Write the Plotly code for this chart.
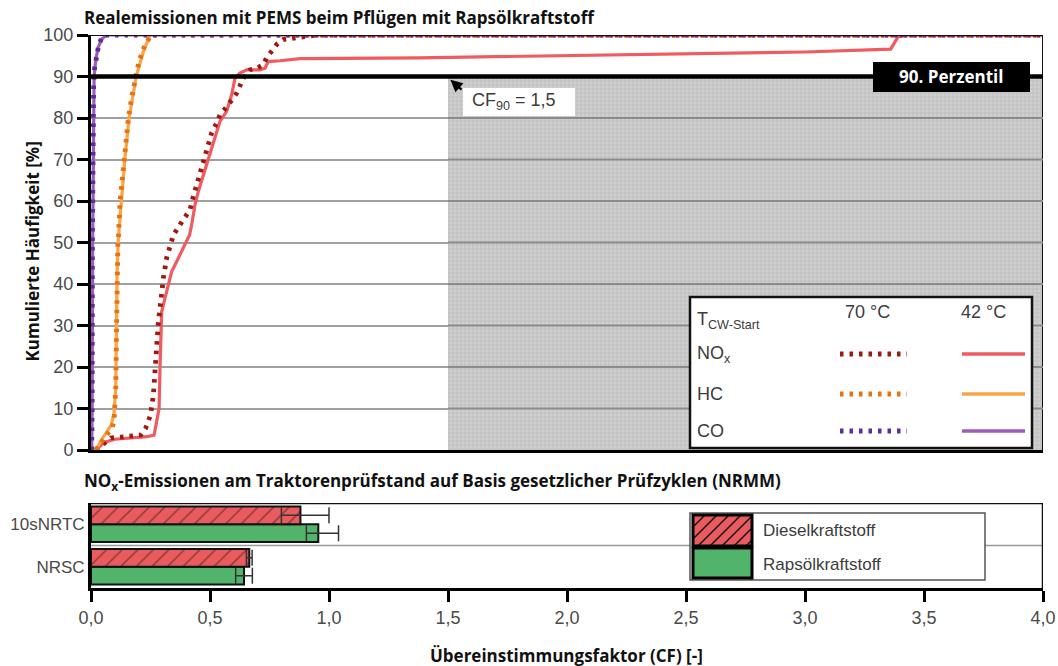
import plotly.graph_objects as go

W, H = 1058, 666

# ---- cumulative frequency of the conformity factor (CF) during ploughing ----
nox70_cf = [0.02, 0.055, 0.083, 0.125, 0.166, 0.209, 0.23, 0.25, 0.262, 0.269, 0.276, 0.283,
            0.29, 0.297, 0.304, 0.318, 0.332, 0.346, 0.374, 0.416, 0.43, 0.444, 0.465, 0.486,
            0.507, 0.528, 0.542, 0.577, 0.598, 0.612, 0.64, 0.668, 0.696, 0.723, 0.738, 0.759,
            0.78, 0.808, 0.849, 0.95, 4.0]
nox70_p = [0, 1.7, 2.9, 3.1, 3.4, 3.6, 5.3, 8.4, 13.2, 19.8, 26, 30.8,
           34.2, 38, 41.4, 46.3, 48.7, 51.8, 54.3, 57.9, 61.1, 63.9, 67.9, 71.6,
           76.4, 78.8, 80.8, 83.2, 84.8, 86, 89.6, 91.6, 92, 92.8, 94.5, 96,
           97.7, 98.9, 99.3, 100, 100]

nox42_cf = [0.02, 0.055, 0.10, 0.15, 0.20, 0.235, 0.265, 0.286, 0.29, 0.293, 0.297, 0.311,
            0.325, 0.339, 0.36, 0.381, 0.402, 0.414, 0.423, 0.437, 0.451, 0.472, 0.493, 0.521,
            0.542, 0.57, 0.591, 0.605, 0.626, 0.654, 0.71, 0.731, 0.745, 0.794, 0.878, 1.38,
            2.0, 2.56, 3.0, 3.36, 3.39, 3.42, 4.0]
nox42_p = [0, 1.8, 2.6, 2.8, 3.0, 3.2, 3.6, 10, 20, 27, 33.3, 36.6,
           39.8, 43, 45.4, 47.8, 50.2, 51.8, 54.3, 59.1, 62.3, 66.3, 70.4, 75.2,
           79.2, 81.6, 85.6, 89.6, 90.8, 91.6, 91.6, 92, 93.6, 93.8, 94.3, 94.5,
           95.0, 95.4, 95.9, 96.6, 99.5, 100, 100]

hc70_cf = [0.02, 0.045, 0.067, 0.09, 0.097, 0.104, 0.107, 0.109, 0.113, 0.115, 0.122, 0.139,
           0.157, 0.173, 0.188, 0.202, 0.222, 0.244, 0.252, 4.0]
hc70_p = [0, 2.0, 3.6, 5.5, 7.2, 15, 27.7, 43.9, 50, 51, 60, 69.6,
          80, 85.6, 90, 93.7, 96.9, 99.3, 100, 100]

hc42_cf = [0.02, 0.05, 0.085, 0.097, 0.104, 0.107, 0.11, 0.115, 0.128, 0.142, 0.16, 0.19,
           0.22, 0.248, 4.0]
hc42_p = [0, 3, 6, 9, 15, 28, 44, 51, 60, 70, 80, 90,
          96, 100, 100]

co70_cf = [0.003, 0.005, 0.006, 0.008, 0.011, 0.015, 0.022, 0.032, 0.045, 0.06, 4.0]
co70_p = [0, 10, 50, 80, 88, 92, 95, 97.5, 99.3, 100, 100]

co42_cf = [0.003, 0.005, 0.007, 0.009, 0.013, 0.02, 0.03, 0.045, 0.065, 4.0]
co42_p = [0, 10, 50, 80, 90, 94, 97, 99, 100, 100]

CF90 = 1.5
PERZENTIL = 90
CF_MAX = 4.0

# ---- test bench cycles (NRMM) ----
zyklen = ["10sNRTC", "NRSC"]
diesel = [0.88, 0.665]
diesel_err_plus = [0.12, 0.012]
diesel_err_minus = [0.08, 0.012]
rapsoel = [0.955, 0.643]
rapsoel_err_plus = [0.085, 0.035]
rapsoel_err_minus = [0.05, 0.035]

C_NOX70, C_NOX42 = "#9E1A10", "#EF5B60"
C_HC70, C_HC42 = "#E8720F", "#F7A548"
C_CO70, C_CO42 = "#5B2D9B", "#9D5CBA"
C_DIESEL, C_RAPS = "#E95B5E", "#52B46B"

FONT = "Liberation Sans"
BOLD = "Open Sans"
TXT = "#3c3c3c"
DOT = "3.5px,6px"

fig = go.Figure()

# hatched region beyond CF90 below the 90th percentile
fig.add_trace(go.Scatter(
    x=[CF90, CF_MAX, CF_MAX, CF90, CF90], y=[0, 0, PERZENTIL, PERZENTIL, 0],
    mode="lines", fill="toself", line=dict(width=0), fillcolor="#c8c8c8",
    fillpattern=dict(shape="+", fgcolor="#a6a6a6", bgcolor="#d0d0d0", size=4, solidity=0.35),
    hoverinfo="skip", showlegend=False, xaxis="x", yaxis="y"))

for xs, ys, c in [(nox42_cf, nox42_p, C_NOX42), (hc42_cf, hc42_p, C_HC42), (co42_cf, co42_p, C_CO42)]:
    fig.add_trace(go.Scatter(x=xs, y=ys, mode="lines", line=dict(color=c, width=3.2),
                             showlegend=False, xaxis="x", yaxis="y"))
for xs, ys, c in [(nox70_cf, nox70_p, C_NOX70), (hc70_cf, hc70_p, C_HC70), (co70_cf, co70_p, C_CO70)]:
    fig.add_trace(go.Scatter(x=xs, y=ys, mode="lines", line=dict(color=c, width=4.8, dash=DOT),
                             showlegend=False, xaxis="x", yaxis="y"))

# bars (horizontal groups: first trace sits at the bottom of each group)
fig.add_trace(go.Bar(
    y=zyklen, x=rapsoel, orientation="h", name="Rapsölkraftstoff",
    marker=dict(color=C_RAPS, line=dict(color="#111", width=2)),
    error_x=dict(type="data", array=rapsoel_err_plus, arrayminus=rapsoel_err_minus,
                 symmetric=False, color="#333", thickness=1.5, width=8),
    showlegend=False, xaxis="x2", yaxis="y2"))
fig.add_trace(go.Bar(
    y=zyklen, x=diesel, orientation="h", name="Dieselkraftstoff",
    marker=dict(color=C_DIESEL, line=dict(color="#111", width=2),
                pattern=dict(shape="/", fgcolor="#111", bgcolor=C_DIESEL, size=11, solidity=0.12)),
    error_x=dict(type="data", array=diesel_err_plus, arrayminus=diesel_err_minus,
                 symmetric=False, color="#333", thickness=1.5, width=8),
    showlegend=False, xaxis="x2", yaxis="y2"))

X_DOM = [91 / W, 1043 / W]
shapes = []
ann = []

# top subplot frame and lines
shapes.append(dict(type="line", xref="x", yref="y", x0=0, x1=CF_MAX, y0=100, y1=100,
                   line=dict(color="#111", width=2)))
shapes.append(dict(type="line", xref="x", yref="y", x0=CF_MAX, x1=CF_MAX, y0=0, y1=100,
                   line=dict(color="#111", width=2)))
for g in range(10, PERZENTIL, 10):
    shapes.append(dict(type="line", xref="x", yref="y", x0=CF90, x1=CF_MAX, y0=g, y1=g,
                       line=dict(color="#8c8c8c", width=2)))
shapes.append(dict(type="line", xref="x", yref="y", x0=0, x1=CF_MAX, y0=PERZENTIL, y1=PERZENTIL,
                   line=dict(color="#000", width=4.5)))


def tx(px):
    return (px - 91) / 238.0


def ty(py):
    return (450 - py) / 4.15


# CF90 label box
shapes.append(dict(type="rect", xref="x", yref="y", x0=tx(463), x1=tx(575), y0=ty(116), y1=ty(88),
                   fillcolor="white", line=dict(width=0)))
ann.append(dict(xref="x", yref="y", x=tx(470), y=ty(102), xanchor="left", yanchor="middle",
                text="CF<sub>90</sub> = 1,5", showarrow=False, font=dict(family=FONT, size=18, color=TXT)))
ann.append(dict(xref="x", yref="y", x=CF90 + 0.01, y=PERZENTIL - 0.8, axref="x", ayref="y",
                ax=tx(463), ay=ty(91), text="", showarrow=True, arrowhead=2, arrowsize=1.1,
                arrowwidth=2.2, arrowcolor="#000"))

# 90th percentile tag
shapes.append(dict(type="rect", xref="x", yref="y", x0=tx(873), x1=tx(1030), y0=ty(92), y1=ty(62),
                   fillcolor="#000", line=dict(width=0)))
ann.append(dict(xref="x", yref="y", x=tx(951), y=ty(77), text="<b>90. Perzentil</b>", showarrow=False,
                font=dict(family=BOLD, size=17, color="white")))

# legend panel of the top subplot
shapes.append(dict(type="rect", xref="x", yref="y", x0=tx(690), x1=tx(1032), y0=ty(448), y1=ty(297),
                   fillcolor="white", line=dict(color="#111", width=2.5)))
ann.append(dict(xref="x", yref="y", x=tx(695), y=ty(320), xanchor="left", yanchor="middle",
                text="T<sub>CW-Start</sub>", showarrow=False, font=dict(family=FONT, size=18, color=TXT)))
ann.append(dict(xref="x", yref="y", x=tx(867), y=ty(312), text="70 °C", showarrow=False,
                font=dict(family=FONT, size=18, color=TXT)))
ann.append(dict(xref="x", yref="y", x=tx(983), y=ty(312), text="42 °C", showarrow=False,
                font=dict(family=FONT, size=18, color=TXT)))
rows = [("NO<sub>x</sub>", 354, C_NOX70, C_NOX42), ("HC", 394, C_HC70, C_HC42), ("CO", 431, C_CO70, C_CO42)]
for lab, py, c70, c42 in rows:
    ann.append(dict(xref="x", yref="y", x=tx(695), y=ty(py), xanchor="left", yanchor="middle",
                    text=lab, showarrow=False, font=dict(family=FONT, size=18, color=TXT)))
    shapes.append(dict(type="line", xref="x", yref="y", x0=tx(840), x1=tx(907), y0=ty(py), y1=ty(py),
                       line=dict(color=c70, width=4.8, dash=DOT)))
    shapes.append(dict(type="line", xref="x", yref="y", x0=tx(962), x1=tx(1025), y0=ty(py), y1=ty(py),
                       line=dict(color=c42, width=3.5)))

# bottom subplot frame, separator and legend
shapes.append(dict(type="line", xref="x2", yref="y2", x0=0, x1=CF_MAX, y0=0.5, y1=0.5,
                   line=dict(color="#9a9a9a", width=1.5), layer="below"))
shapes.append(dict(type="line", xref="x2", yref="y2", x0=0, x1=CF_MAX, y0=1.5, y1=1.5,
                   line=dict(color="#111", width=2.5)))
shapes.append(dict(type="line", xref="x2", yref="y2", x0=CF_MAX, x1=CF_MAX, y0=-0.5, y1=1.5,
                   line=dict(color="#111", width=2.5)))


def bx(px):
    return (px - 91) / 238.0


def by(py):
    return 1.5 - (py - 503) / 42.5


shapes.append(dict(type="rect", xref="x2", yref="y2", x0=bx(690), x1=bx(985), y0=by(580), y1=by(513),
                   fillcolor="white", line=dict(color="#555", width=1.5)))
sw_l, sw_r = 693, 752
shapes.append(dict(type="rect", xref="x2", yref="y2", x0=bx(sw_l), x1=bx(sw_r), y0=by(546), y1=by(515),
                   fillcolor=C_DIESEL, line=dict(width=0)))
# diagonal hatching inside the diesel swatch
top_py, bot_py = 515, 546
for start in range(sw_l - 31, sw_r, 12):
    xa, ya = start, bot_py
    xb, yb = start + (bot_py - top_py), top_py
    if xa < sw_l:
        ya = bot_py - (sw_l - xa)
        xa = sw_l
    if xb > sw_r:
        yb = top_py + (xb - sw_r)
        xb = sw_r
    if xb > xa:
        shapes.append(dict(type="line", xref="x2", yref="y2", x0=bx(xa), x1=bx(xb), y0=by(ya), y1=by(yb),
                           line=dict(color="#111", width=1.5)))
shapes.append(dict(type="rect", xref="x2", yref="y2", x0=bx(sw_l), x1=bx(sw_r), y0=by(546), y1=by(515),
                   line=dict(color="#000", width=3)))
shapes.append(dict(type="rect", xref="x2", yref="y2", x0=bx(sw_l), x1=bx(sw_r), y0=by(578), y1=by(548),
                   fillcolor=C_RAPS, line=dict(color="#000", width=3)))
ann.append(dict(xref="x2", yref="y2", x=bx(761), y=by(530), xanchor="left", text="Dieselkraftstoff",
                showarrow=False, font=dict(family=FONT, size=17, color=TXT)))
ann.append(dict(xref="x2", yref="y2", x=bx(761), y=by(564), xanchor="left", text="Rapsölkraftstoff",
                showarrow=False, font=dict(family=FONT, size=17, color=TXT)))

# titles
ann.append(dict(xref="paper", yref="paper", x=82 / W, y=1 - 17 / H, xanchor="left", yanchor="middle",
                text="<b>Realemissionen mit PEMS beim Pflügen mit Rapsölkraftstoff</b>", showarrow=False,
                font=dict(family=BOLD, size=17, color="#111")))
ann.append(dict(xref="paper", yref="paper", x=18 / W, y=1 - 252 / H, textangle=-90,
                text="<b>Kumulierte Häufigkeit [%]</b>", showarrow=False,
                font=dict(family=BOLD, size=17, color="#111")))
ann.append(dict(xref="paper", yref="paper", x=82 / W, y=1 - 481 / H, xanchor="left", yanchor="middle",
                text="<b>NO<sub>x</sub>-Emissionen am Traktorenprüfstand auf Basis gesetzlicher Prüfzyklen (NRMM)</b>",
                showarrow=False, font=dict(family=BOLD, size=17, color="#111")))
ann.append(dict(xref="paper", yref="paper", x=566 / W, y=1 - 655 / H, yanchor="middle",
                text="<b>Übereinstimmungsfaktor (CF) [-]</b>", showarrow=False,
                font=dict(family=BOLD, size=17, color="#111")))

fig.update_layout(
    width=W, height=H, margin=dict(l=0, r=0, t=0, b=0, autoexpand=False),
    paper_bgcolor="white", plot_bgcolor="white", separators=",.",
    barmode="group", bargap=0.16, bargroupgap=0.0,
    xaxis=dict(domain=X_DOM, range=[0, CF_MAX], anchor="y", showticklabels=False, ticks="",
               showgrid=False, zeroline=False, showline=True, linewidth=3, linecolor="#000",
               automargin=False),
    yaxis=dict(domain=[1 - 450 / H, 1 - 35 / H], range=[0, 100], anchor="x", dtick=10,
               ticks="outside", ticklen=11, tickwidth=3, tickcolor="#000",
               showline=True, linewidth=3, linecolor="#000", zeroline=False,
               showgrid=True, gridcolor="#a0a0a0", gridwidth=2, automargin=False,
               tickfont=dict(family=FONT, size=18, color="#4a4a4a")),
    xaxis2=dict(domain=X_DOM, range=[0, CF_MAX], anchor="y2", tickvals=[i * 0.5 for i in range(9)],
                tickformat=".1f", ticks="outside", ticklen=11, tickwidth=3, tickcolor="#000",
                showline=True, linewidth=3, linecolor="#000", showgrid=False, zeroline=False,
                automargin=False, tickfont=dict(family=FONT, size=18, color="#4a4a4a")),
    yaxis2=dict(domain=[1 - 588 / H, 1 - 503 / H], type="category", categoryorder="array",
                categoryarray=["NRSC", "10sNRTC"], range=[-0.5, 1.5], anchor="x2",
                ticks="", showline=True, linewidth=3, linecolor="#000", showgrid=False,
                automargin=False, tickfont=dict(family=FONT, size=17, color="#4a4a4a")),
    shapes=shapes, annotations=ann,
)

fig.write_html("out.html")
